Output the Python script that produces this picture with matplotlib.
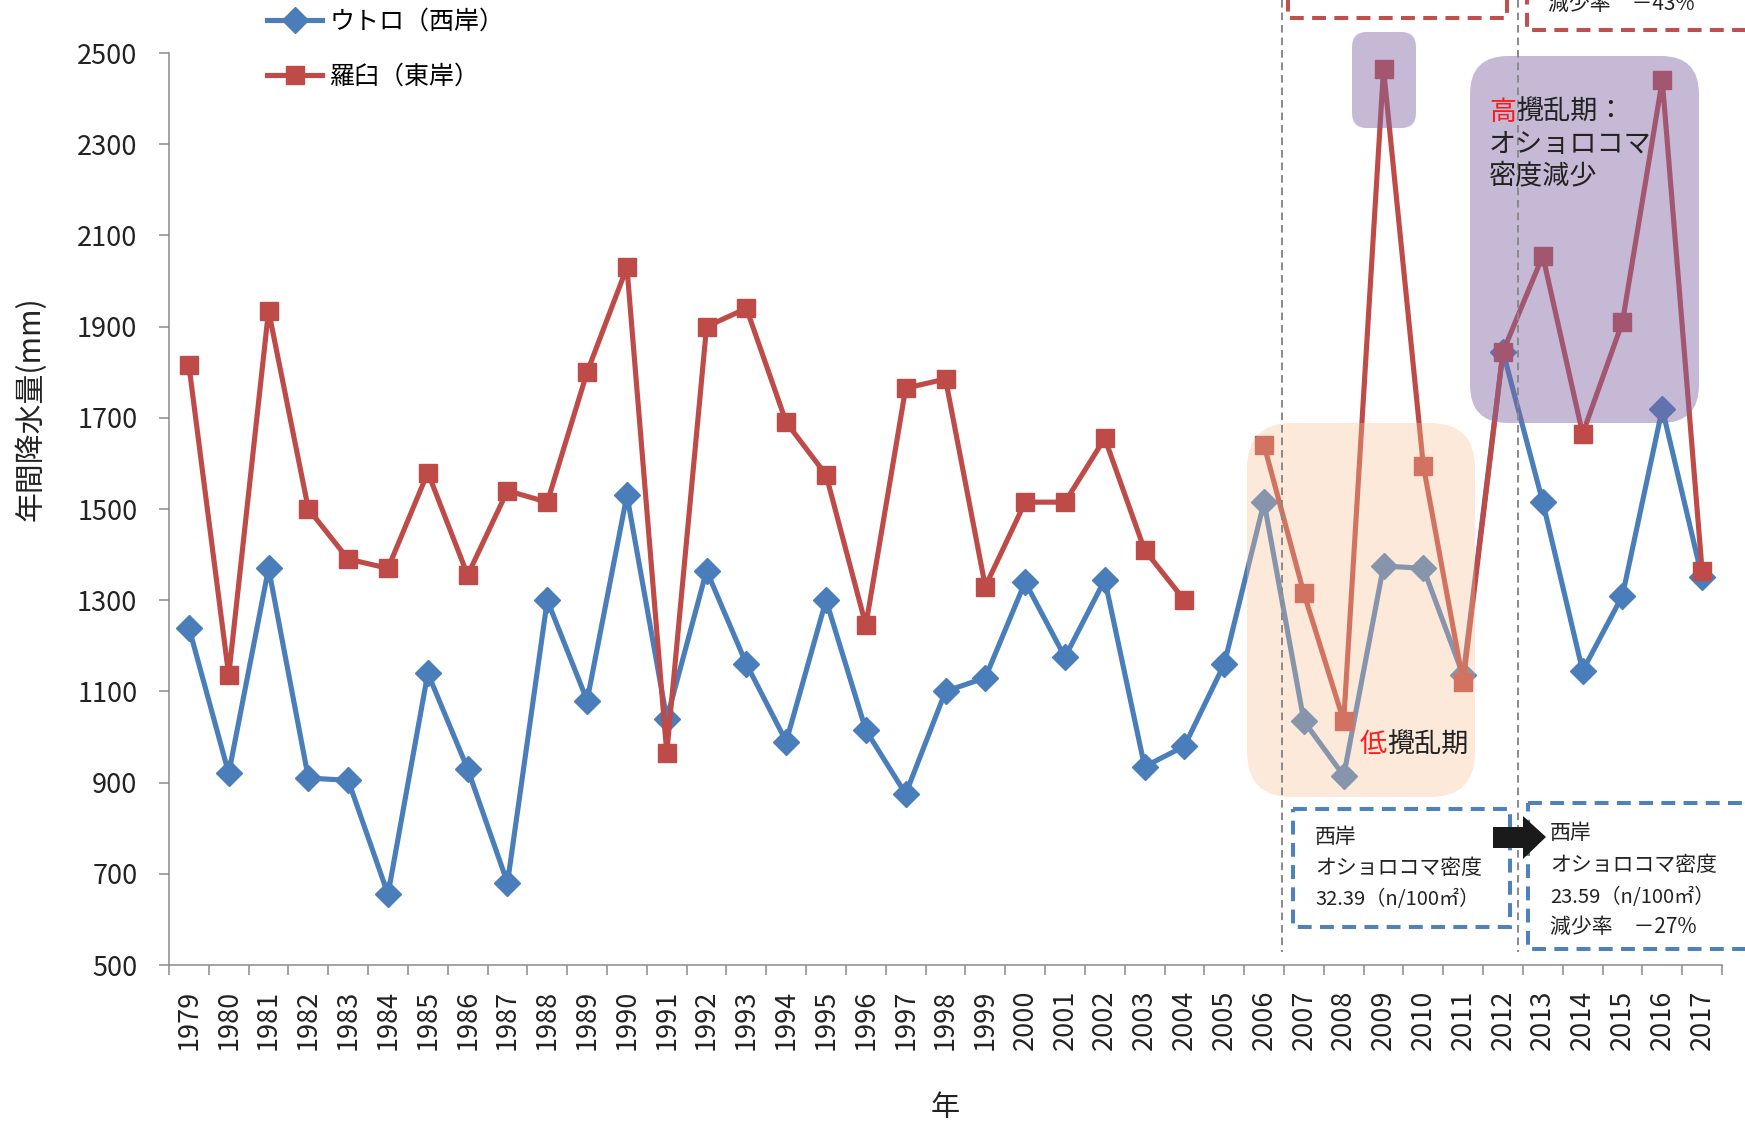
"""
    Annual precipitation at Utoro (west coast) and Rausu (east coast),
    1979-2017, with disturbance periods and Dolly Varden density notes.
"""

import numpy as np
import matplotlib.pyplot as plt
import matplotlib.transforms as mtransforms
from matplotlib.patches import FancyBboxPatch, Rectangle, Polygon

plt.rcParams['font.family'] = ['Noto Sans CJK JP', 'DejaVu Sans']
plt.rcParams['lines.scale_dashes'] = False

# ---------------- data ----------------
years = list(range(1979, 2018))
utoro = [1240, 920, 1370, 910, 905, 655, 1140, 930, 680, 1300,
         1080, 1530, 1040, 1365, 1160, 990, 1300, 1015, 875, 1100,
         1130, 1340, 1175, 1345, 935, 980, 1160, 1515, 1035, 915,
         1375, 1370, 1135, 1845, 1515, 1145, 1310, 1720, 1350]
rausu = [1815, 1135, 1935, 1500, 1390, 1370, 1580, 1355, 1540, 1515,
         1800, 2030, 965, 1900, 1940, 1690, 1575, 1245, 1765, 1785,
         1330, 1515, 1515, 1655, 1410, 1300, np.nan, 1640, 1315, 1035,
         2465, 1595, 1120, 1845, 2055, 1665, 1910, 2440, 1365]
series_names = ["ウトロ（西岸）", "羅臼（東岸）"]
y_ticks = list(range(500, 2501, 200))

BLUE = '#4A7EBB'
RED = '#BE4B48'
GRAY = '#8a8a8a'
TXT = '#222222'

W, H = 1745, 1123
fig = plt.figure(figsize=(W / 100, H / 100), dpi=100)
ax = fig.add_axes([169 / W, 1 - 965 / H, (1722 - 169) / W, (965 - 53) / H])
# pixel coordinates of the figure, y pointing down (for the annotations)
pix = mtransforms.Affine2D().scale(1 / W, -1 / H).translate(0, 1) + fig.transFigure

ax.plot(years, utoro, color=BLUE, lw=3.7, marker='D', ms=13.5,
        mfc=BLUE, mec=BLUE, label=series_names[0], zorder=2)
ax.plot(years, rausu, color=RED, lw=3.7, marker='s', ms=12.5,
        mfc=RED, mec=RED, label=series_names[1], zorder=2)

ax.set_xlim(years[0] - 0.5, years[-1] + 0.5)
ax.set_ylim(y_ticks[0], y_ticks[-1])
ax.set_yticks(y_ticks)
ax.set_xticks(years)
ax.set_xticks(np.arange(years[0] - 0.5, years[-1] + 1, 1), minor=True)
ax.tick_params(axis='x', which='major', length=0, pad=18, labelsize=19.5,
               labelrotation=90, labelcolor=TXT)
ax.tick_params(axis='x', which='minor', length=7.2, width=1.1, color=GRAY)
ax.tick_params(axis='y', length=7.2, width=1.1, color=GRAY, pad=15.5,
               labelsize=19.5, labelcolor=TXT)
for side in ['top', 'right']:
    ax.spines[side].set_visible(False)
for side in ['left', 'bottom']:
    ax.spines[side].set_color(GRAY)
    ax.spines[side].set_linewidth(1.1)

ax.set_ylabel("年間降水量(mm)", fontsize=21.5, color=TXT, va='center')
ax.yaxis.set_label_coords(-0.089, 0.61)
ax.set_xlabel("年", fontsize=21, color=TXT, va='center')
ax.xaxis.set_label_coords(0.5, -0.157)

ax.legend(loc='upper left', bbox_to_anchor=(267 / W, 1 - 9 / H),
          bbox_transform=fig.transFigure, frameon=False, fontsize=18,
          handlelength=2.2, handletextpad=0.3, labelspacing=1.15,
          borderpad=0, borderaxespad=0)

# ---------------- annotations (pixel coordinates) ----------------
def rbox(x0, y0, x1, y1, r, color, alpha):
    ax.add_patch(FancyBboxPatch((x0 + r, y0 + r), x1 - x0 - 2 * r, y1 - y0 - 2 * r,
                                boxstyle=f"round,pad={r},rounding_size={r}",
                                transform=pix, fc=color, ec='none', alpha=alpha,
                                clip_on=False, zorder=3))

rbox(1247, 423, 1475, 797, 45, '#F9C092', 0.35)
rbox(1352, 32, 1416, 128, 15, '#8064A2', 0.45)
rbox(1470, 56, 1699, 423, 38, '#8064A2', 0.45)

for xv in [1282, 1518]:
    ax.plot([xv, xv], [0, 952], transform=pix, color=GRAY, lw=1.4,
            ls=(0, (5.5, 3.5)), clip_on=False, zorder=4)

def dbox(x0, y0, x1, y1, color):
    ax.add_patch(Rectangle((x0, y0), x1 - x0, y1 - y0, transform=pix, fill=False,
                           ec=color, lw=2.9, ls=(0, (10, 6)), clip_on=False,
                           zorder=4))

dbox(1293, 809, 1510, 927, '#4F81BD')
dbox(1528, 803, 1800, 949, '#4F81BD')
dbox(1288, -40, 1507, 18, '#C0504D')
dbox(1527, -60, 1800, 30, '#C0504D')

ax.add_patch(Polygon([(1493, 827), (1523, 827), (1523, 816), (1546, 837),
                      (1523, 859), (1523, 848), (1493, 848)],
                     closed=True, transform=pix, fc='#1a1a1a', ec='none',
                     clip_on=False, zorder=5))

def label(x, y, s, size, color=TXT):
    return ax.text(x, y, s, transform=pix, fontsize=size, color=color,
                   ha='left', va='center', zorder=6)

def tail(first, s, size):
    # text that continues right after another text
    ax.annotate(s, xy=(1, 0), xycoords=first, fontsize=size, color=TXT,
                ha='left', va='bottom', zorder=6)

label(1315, 837, "西岸", 15)
label(1315, 868, "オショロコマ密度", 15)
label(1315, 900, "32.39（n/100㎡）", 14.5)
label(1550, 833, "西岸", 15)
label(1550, 865, "オショロコマ密度", 15)
label(1550, 897, "23.59（n/100㎡）", 14.5)
label(1550, 927, "減少率　－27%", 15)
label(1548, 4, "減少率　－43%", 15)

# two-colour labels
low = label(1360, 745, "低", 19.5, color='#FF1A1A')
tail(low, "攪乱期", 19.5)
high = label(1489, 112, "高", 19.5, color='#FF1A1A')
tail(high, "攪乱期：", 19.5)
label(1489, 144, "オショロコマ", 19.5)
label(1489, 176, "密度減少", 19.5)

fig.savefig("out.png", dpi=100)
